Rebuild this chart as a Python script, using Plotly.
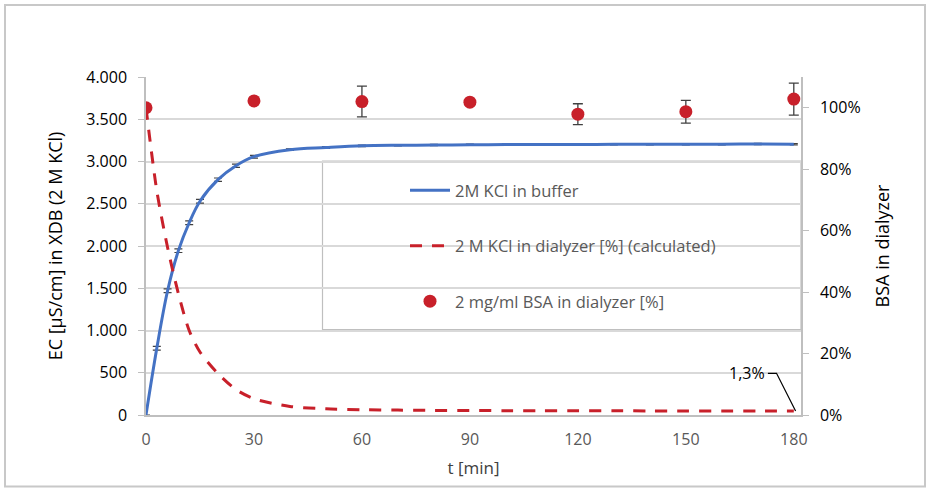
import plotly.graph_objects as go

# ---- data ----
t_kcl = [0, 3, 6, 9, 12, 15, 20, 25, 30, 40, 50, 60, 70, 80, 90, 100, 110, 120, 130, 140, 150, 160, 170, 180]
ec_kcl = [0, 790, 1470, 1945, 2275, 2530, 2785, 2950, 3057, 3140, 3165, 3185, 3192, 3195, 3198, 3200,
          3200, 3200, 3203, 3203, 3204, 3204, 3207, 3205]
ec_err = [0, 22, 22, 22, 22, 22, 20, 20, 16, 10, 10, 8, 8, 8, 8, 8, 8, 8, 8, 8, 8, 8, 8, 8]
kcl_dialyzer = [1.00, 0.73, 0.545, 0.395, 0.275, 0.205, 0.135, 0.083, 0.053, 0.028, 0.020, 0.017, 0.016,
                0.015, 0.015, 0.014, 0.014, 0.014, 0.014, 0.013, 0.013, 0.013, 0.013, 0.013]
t_bsa = [0, 30, 60, 90, 120, 150, 180]
bsa = [1.00, 1.022, 1.020, 1.018, 0.979, 0.987, 1.028]
bsa_err = [0, 0, 0.050, 0, 0.034, 0.037, 0.052]
x_ticks = [0, 30, 60, 90, 120, 150, 180]
y_ticks = [0, 500, 1000, 1500, 2000, 2500, 3000, 3500, 4000]
y2_ticks = [0, 0.2, 0.4, 0.6, 0.8, 1.0]

BLUE = "#4472c4"
RED = "#c8202a"
FONT = "Open Sans"

fig = go.Figure()
fig.add_trace(go.Scatter(
    x=t_kcl, y=ec_kcl, mode="lines", name="2M KCl in buffer",
    line=dict(color=BLUE, width=3, shape="spline", smoothing=1),
    error_y=dict(type="data", array=ec_err, color="#404040", thickness=1.2, width=4),
    legendgroup="a"))
fig.add_trace(go.Scatter(
    x=t_kcl, y=kcl_dialyzer, mode="lines", name="2 M KCl in dialyzer [%] (calculated)",
    line=dict(color=RED, width=3, dash="12px,10px", shape="spline", smoothing=0.8),
    yaxis="y2", legendgroup="b"))
fig.add_trace(go.Scatter(
    x=t_bsa, y=bsa, mode="markers", name="2 mg/ml BSA in dialyzer [%]",
    marker=dict(color=RED, size=13),
    error_y=dict(type="data", array=bsa_err, color="#404040", thickness=1.3, width=5),
    yaxis="y2", legendgroup="c"))

# plot area in px: left 146, right 801, top 77, bottom 415
W, H = 929, 489
L, R, T, B = 146, 801, 77, 415
def px(x):
    return (x - L) / (R - L)
def py(y):
    return (B - y) / (B - T)

shapes = [
    # outer chart frame
    dict(type="rect", xref="paper", yref="paper", x0=px(5), x1=px(925), y0=py(486.5), y1=py(5),
         line=dict(color="#c8c8c8", width=2), fillcolor="rgba(0,0,0,0)", layer="below"),
    # legend box
    dict(type="rect", xref="paper", yref="paper", x0=px(322.5), x1=px(801), y0=py(329.5), y1=py(161),
         line=dict(color="#bfbfbf", width=1.2), fillcolor="white", layer="between"),
    # leader line for 1,3% label
    dict(type="path", xref="x", yref="y2",
         path="M 172.8 0.1357 L 175.2 0.1357 L 180.5 0.013",
         line=dict(color="black", width=1.2)),
]

fig.update_layout(
    width=W, height=H,
    margin=dict(l=L, r=W - R, t=T, b=H - B, autoexpand=False),
    paper_bgcolor="white", plot_bgcolor="white",
    font=dict(family=FONT, size=16, color="#000000"),
    separators=",.",
    showlegend=True,
    legend=dict(x=px(405), y=py(173), xanchor="left", yanchor="top",
                bgcolor="rgba(0,0,0,0)", borderwidth=0,
                font=dict(family=FONT, size=16.5, color="#595959"),
                tracegroupgap=31, itemwidth=40),
    xaxis=dict(range=[0, 182], tickvals=x_ticks, showgrid=False, zeroline=False, automargin=False,
               showline=True, linecolor="#bfbfbf", linewidth=1.5,
               ticks="", tickfont=dict(color="#595959", size=16), ticklabelstandoff=9,
               title=dict(text="t [min]", font=dict(size=17, color="#404040"), standoff=13)),
    yaxis=dict(range=[0, 4000], tickvals=y_ticks, tickformat=",d", automargin=False,
               showgrid=True, gridcolor="#d9d9d9", gridwidth=1.5, zeroline=False,
               showline=True, linecolor="#bfbfbf", linewidth=1.5,
               ticks="outside", ticklen=6, tickcolor="#bfbfbf", ticklabelstandoff=8,
               tickfont=dict(size=16),
               title=dict(text="EC [µS/cm] in XDB (2 M KCl)", font=dict(size=18), standoff=19)),
    yaxis2=dict(range=[0, 1.1], tickvals=y2_ticks, tickformat=".0%", overlaying="y", side="right",
                automargin=False,
                showgrid=False, zeroline=False, showline=True, linecolor="#bfbfbf", linewidth=1.5,
                ticks="outside", ticklen=6, tickcolor="#bfbfbf", ticklabelstandoff=8,
                tickfont=dict(size=16),
                title=dict(text="BSA in dialyzer", font=dict(size=18), standoff=17)),
    shapes=shapes,
    annotations=[dict(x=172.6, y=0.1357, xref="x", yref="y2", text="1,3%", showarrow=False,
                      xanchor="right", yanchor="middle", font=dict(size=16, color="black"))],
)

fig.write_html("out.html", config={"displayModeBar": False},
               post_script="document.body.style.margin='0';")
